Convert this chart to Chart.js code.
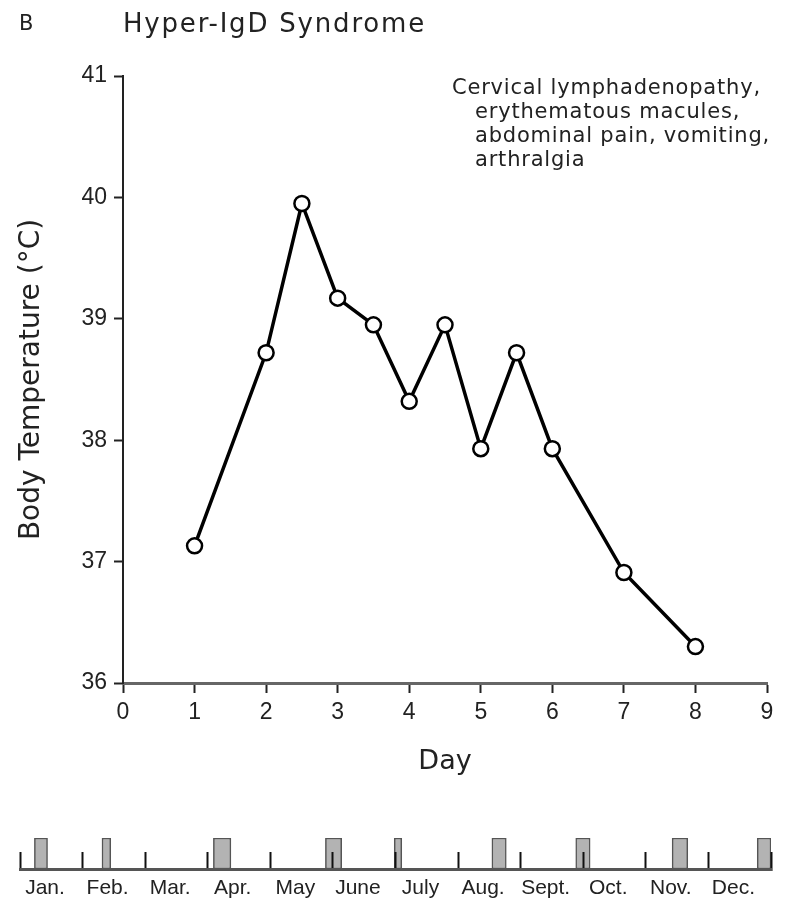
<!DOCTYPE html>
<html>
<head>
<meta charset="utf-8">
<script src="https://cdn.jsdelivr.net/npm/chart.js@4.4.1/dist/chart.umd.min.js"></script>
<style>
  html, body { margin: 0; padding: 0; background: #fff; }
  #wrap { position: relative; width: 789px; height: 910px; }
  #main { position: absolute; left: 0; top: 0; }
  #time { position: absolute; left: 0; top: 800px; }
</style>
</head>
<body>
<div id="wrap">
  <canvas id="main" width="789" height="800"></canvas>
  <canvas id="time" width="789" height="110"></canvas>
</div>
<script>
// ---- data ----
const days = [1, 2, 2.5, 3, 3.5, 4, 4.5, 5, 5.5, 6, 7, 8];
const temperatures = [37.13, 38.72, 39.95, 39.17, 38.95, 38.32, 38.95, 37.93, 38.72, 37.93, 36.91, 36.30];
const dayTicks = [0, 1, 2, 3, 4, 5, 6, 7, 8, 9];
const tempTicks = [36, 37, 38, 39, 40, 41];
const titleLetter = 'B';
const titleText = 'Hyper-IgD Syndrome';
const symptoms = ['Cervical lymphadenopathy,', 'erythematous macules,', 'abdominal pain, vomiting,', 'arthralgia'];
const months = ['Jan.', 'Feb.', 'Mar.', 'Apr.', 'May', 'June', 'July', 'Aug.', 'Sept.', 'Oct.', 'Nov.', 'Dec.'];
const episodeStart = [0.23, 1.31, 3.09, 4.88, 5.98, 7.54, 8.88, 10.42, 11.78];
const episodeEnd   = [0.44, 1.45, 3.37, 5.14, 6.10, 7.77, 9.11, 10.67, 12.00];

const TXT = '#222';
const TICKFONT = { family: '"Liberation Sans", Arial, sans-serif', size: 23 };
const LABFONT = '"DejaVu Sans", "Liberation Sans", sans-serif';

const textPlugin = {
  id: 'texts',
  afterDraw(chart) {
    const ctx = chart.ctx, a = chart.chartArea;
    ctx.save();
    ctx.fillStyle = TXT;
    ctx.textBaseline = 'middle';
    ctx.textAlign = 'left';
    ctx.font = '21px ' + LABFONT;
    ctx.fillText(titleLetter, 19, 25);
    ctx.font = '26px ' + LABFONT;
    ctx.letterSpacing = '1.8px';
    ctx.fillText(titleText, a.left, 25);
    ctx.font = '21px ' + LABFONT;
    ctx.letterSpacing = '0.8px';
    const x0 = a.left + 329, x1 = a.left + 352;
    symptoms.forEach((s, i) => {
      ctx.fillText(s, i === 0 ? x0 : x1, 89 + i * 24);
    });
    ctx.restore();
  }
};

new Chart(document.getElementById('main'), {
  type: 'line',
  data: {
    datasets: [{
      data: days.map((d, i) => ({ x: d, y: temperatures[i] })),
      borderColor: '#000',
      borderWidth: 3.5,
      tension: 0,
      pointRadius: 7.5,
      pointHoverRadius: 7.5,
      pointBorderWidth: 2.5,
      pointBackgroundColor: '#fff',
      pointBorderColor: '#000',
      clip: false
    }]
  },
  options: {
    responsive: false,
    animation: false,
    events: [],
    layout: { padding: { top: 76, right: 22, left: 0, bottom: 0 } },
    plugins: { legend: { display: false }, tooltip: { enabled: false } },
    scales: {
      x: {
        type: 'linear',
        min: 0, max: 9,
        afterBuildTicks(s) { s.ticks = dayTicks.map(v => ({ value: v })); },
        afterFit(s) { s.height = 117; s.paddingLeft = 0; s.paddingRight = 0; },
        grid: { drawOnChartArea: false, drawTicks: true, tickLength: 10, tickColor: '#222', tickWidth: 2 },
        border: { display: true, color: '#666', width: 3 },
        ticks: { color: TXT, font: TICKFONT, padding: 6, maxRotation: 0 },
        title: { display: true, text: 'Day', color: TXT, font: { family: LABFONT, size: 27 }, padding: { top: 0, bottom: 22 } }
      },
      y: {
        type: 'linear',
        min: 36, max: 41,
        afterBuildTicks(s) { s.ticks = tempTicks.map(v => ({ value: v })); },
        afterFit(s) { s.width = 123; },
        grid: { drawOnChartArea: false, drawTicks: true, tickLength: 9, tickColor: '#222', tickWidth: 2 },
        border: { display: true, color: '#222', width: 2 },
        ticks: { color: TXT, font: TICKFONT, padding: 7 },
        title: { display: true, text: 'Body Temperature (°C)', color: TXT, font: { family: LABFONT, size: 28 }, padding: { top: 15, bottom: 0 } }
      }
    }
  },
  plugins: [textPlugin]
});

new Chart(document.getElementById('time'), {
  type: 'bar',
  data: {
    labels: ['episodes'],
    datasets: [{
      data: episodeStart.map((s, i) => ({ x: [s, episodeEnd[i]], y: 'episodes' })),
      backgroundColor: '#b3b3b3',
      borderColor: '#555',
      borderWidth: 1.5,
      borderSkipped: false,
      barPercentage: 1,
      categoryPercentage: 1
    }]
  },
  options: {
    indexAxis: 'y',
    responsive: false,
    animation: false,
    events: [],
    layout: { padding: { top: 38, right: 18, left: 20, bottom: 0 } },
    plugins: { legend: { display: false }, tooltip: { enabled: false } },
    scales: {
      x: {
        type: 'linear',
        min: 0, max: 12,
        afterBuildTicks(s) { s.ticks = months.concat(['']).map((m, i) => ({ value: i })); },
        afterFit(s) { s.height = 41; s.paddingLeft = 0; s.paddingRight = 0; },
        grid: { display: true, drawOnChartArea: false, drawTicks: true, tickLength: -17, tickColor: '#111', tickWidth: 2, z: 1 },
        border: { display: true, color: '#555', width: 3, z: 1 },
        ticks: {
          color: TXT, font: { family: '"Liberation Sans", Arial, sans-serif', size: 21 },
          padding: 24, labelOffset: 25, maxRotation: 0, autoSkip: false, z: 1,
          callback: (v, i) => months[i] || ''
        }
      },
      y: { type: 'category', display: false }
    }
  }
});
</script>
</body>
</html>
